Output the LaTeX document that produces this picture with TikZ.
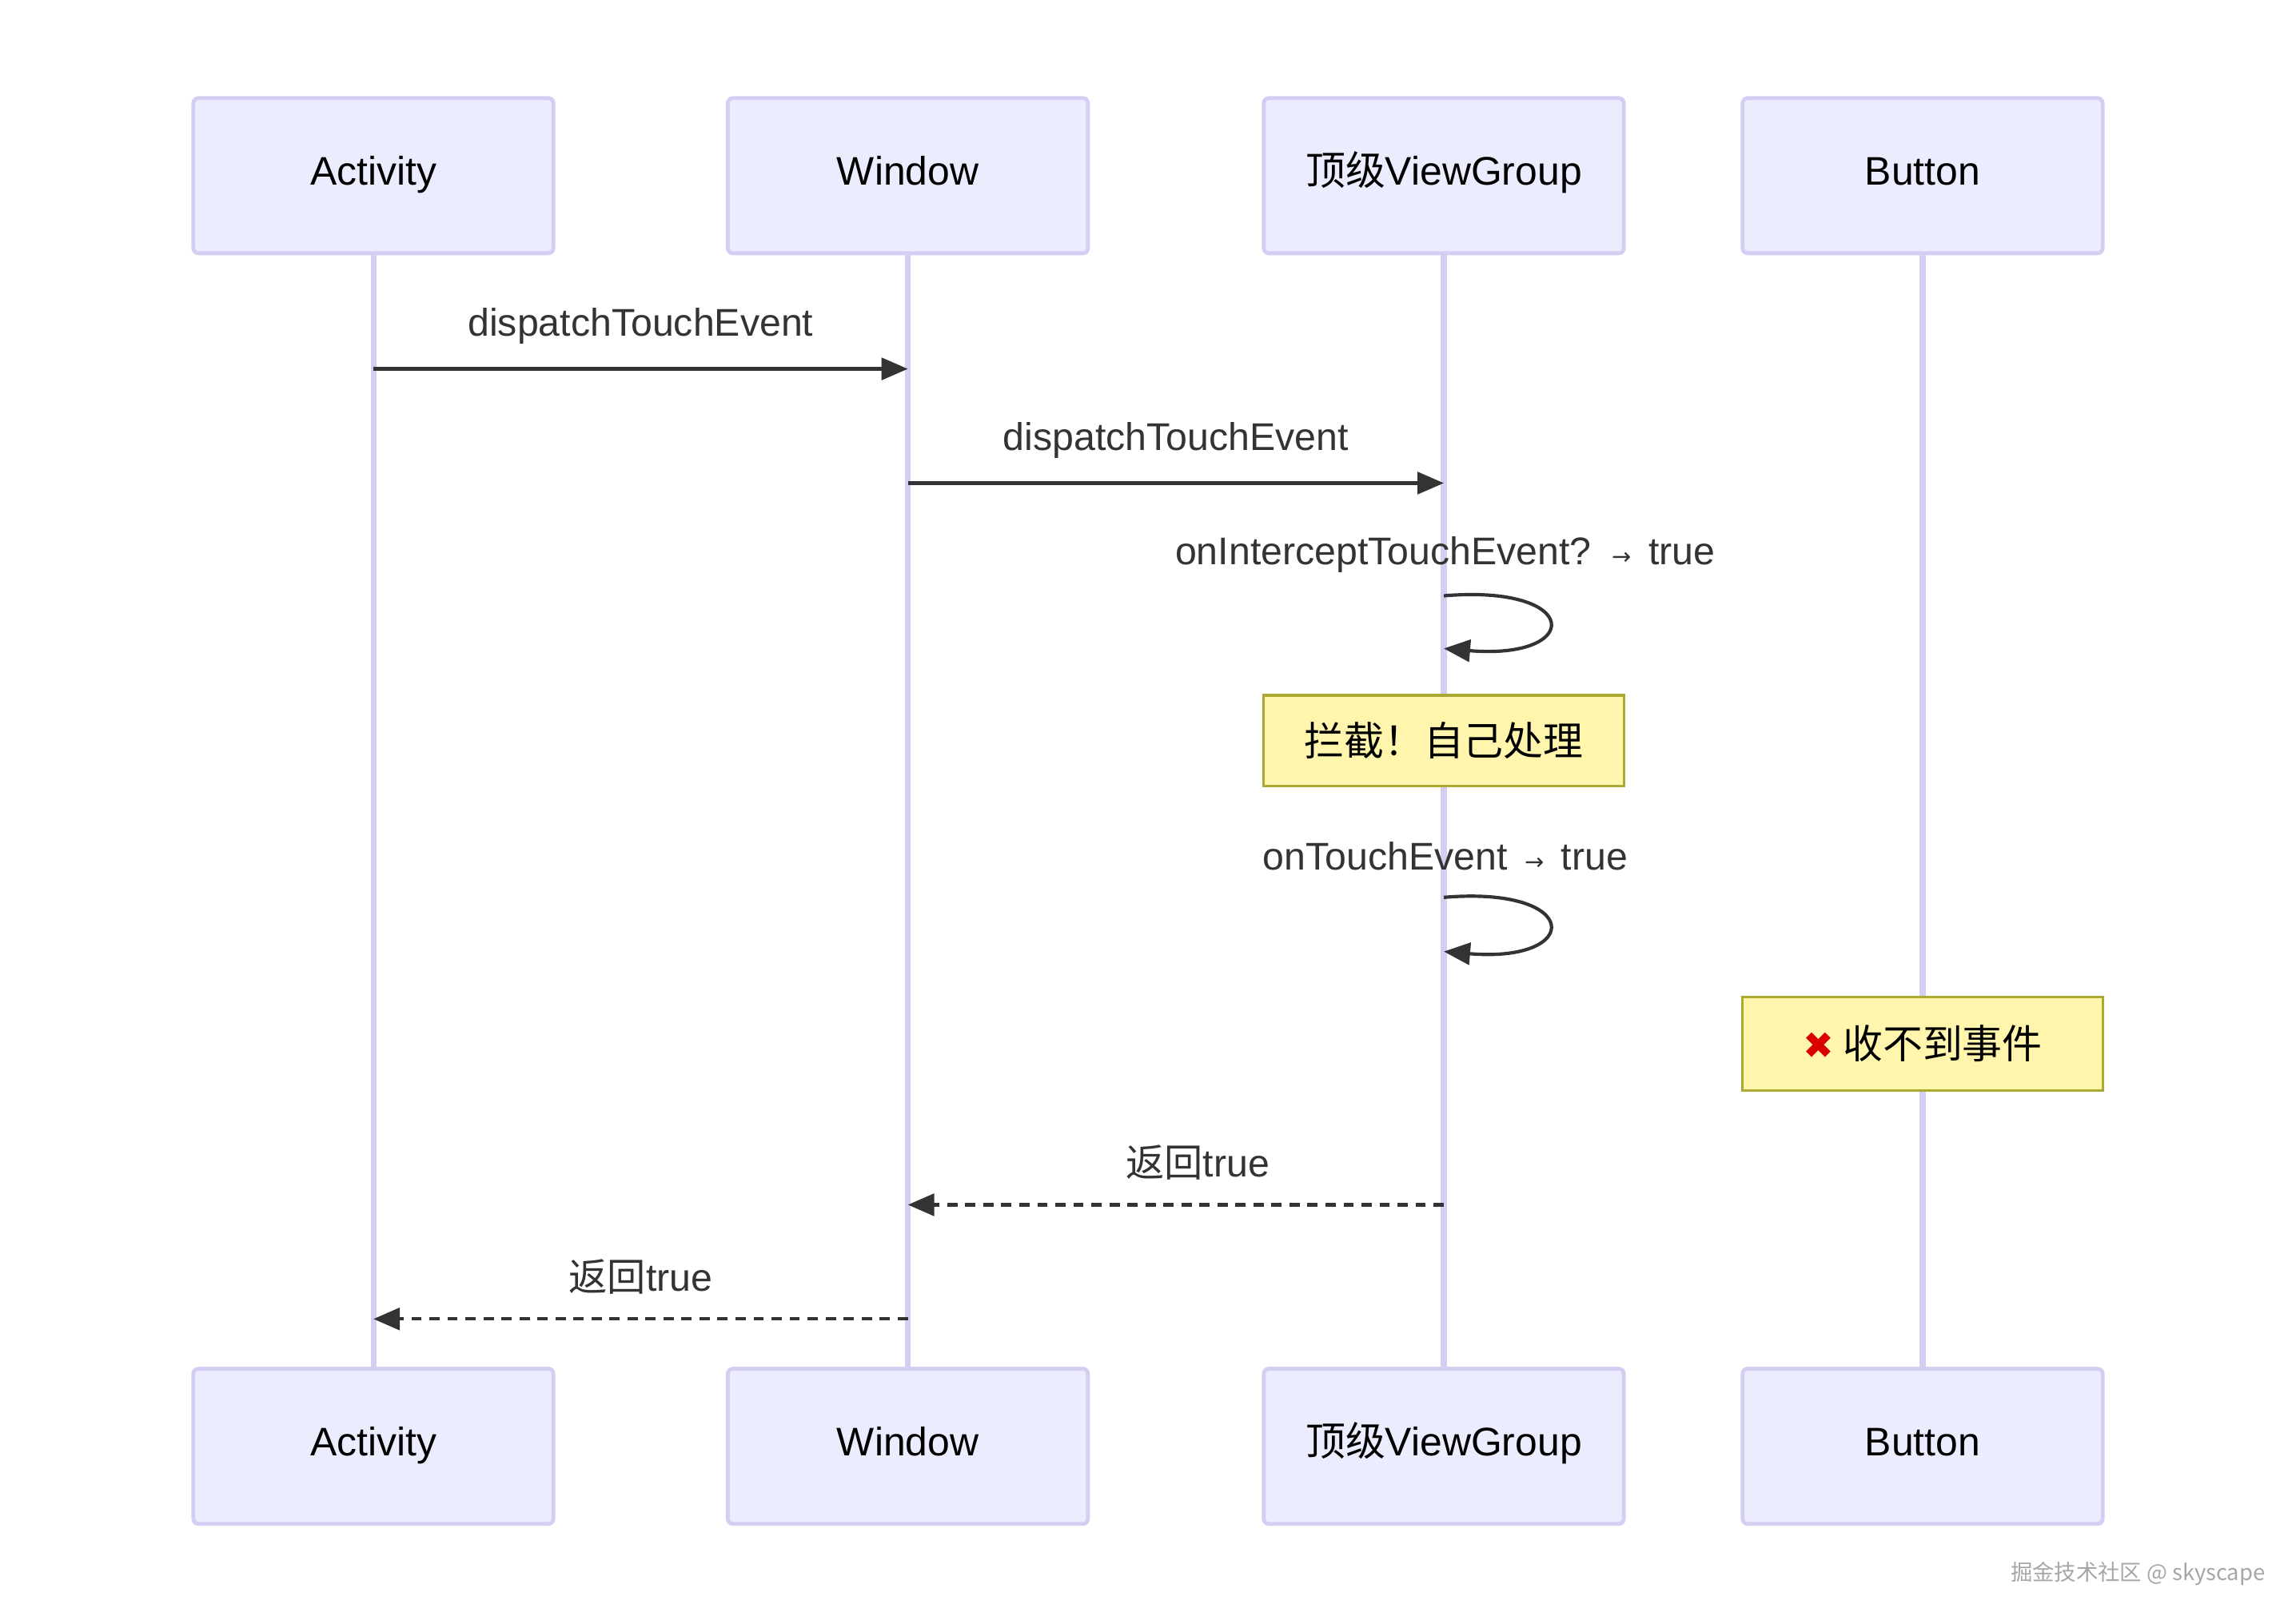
\documentclass[tikz,border=0pt]{standalone}
\usepackage{fontspec}
\setmainfont{Liberation Sans}
\newfontfamily\cjk{Noto Sans CJK SC}
\newfontfamily\sym{DejaVu Sans}
\usetikzlibrary{arrows.meta}

\definecolor{actorfill}{HTML}{ECECFF}
\definecolor{actorline}{HTML}{D4CEF2}
\definecolor{notefill}{HTML}{FFF5AD}
\definecolor{noteline}{HTML}{AAAA33}
\definecolor{msgline}{HTML}{333333}

\tikzset{%
  every actor/.style={
    draw=actorline,
    fill=actorfill,
    line width=1.5pt,
    rounded corners=2pt,
    minimum width=4.92cm,
    minimum height=2.12cm,
    text height=0.75em,
    text depth=0em,
    font=\fontsize{15.5}{19}\selectfont
  },
  note/.style={
    draw=noteline,
    fill=notefill,
    line width=1pt,
    minimum width=4.92cm,
    font=\fontsize{15.5}{19}\selectfont\cjk
  },
  lifeline/.style={
    draw=actorline,
    line width=2.2pt
  },
  msg/.style={
    draw=msgline,
    line width=1.3pt,
    -{Triangle[length=0.36cm,width=0.3cm]}
  },
  reply/.style={
    msg,
    dash pattern=on 4pt off 3pt
  },
  label/.style={
    text=msgline,
    font=\fontsize{15}{18}\selectfont
  },
}

\begin{document}
\begin{tikzpicture}[x=0.02cm, y=-0.02cm]
\useasboundingbox (0,0) rectangle (1568,1109);

% ACTORS, top and bottom
\foreach \n/\x/\t in {act/255/Activity, win/620/Window, vg/986/{{\cjk 顶级}ViewGroup}, btn/1313/Button} {
  \node [every actor] (\n-top) at (\x,120) {\t};
  \node [every actor] (\n-bot) at (\x,988) {\t};
}

% LIFELINES
\foreach \n in {act,win,vg,btn}
  \draw [lifeline] (\n-top.south) -- (\n-bot.north);

% NOTES
\node [note, minimum height=1.24cm] (intercept) at (986,506) {拦截！自己处理};
\node [note, minimum height=1.28cm] (nothing) at (1313,713)
  {{\sym\Large\textcolor{red!85!black}{✖}} 收不到事件};

% ROWS
\foreach \r/\y in {r1/252, r2/330, r3/407, r4/443, r5/613, r6/650, r7/823, r8/901}
  \coordinate (\r) at (0,\y);

% MESSAGES
\draw [msg] (act-top |- r1) -- (win-top |- r1)
  node [label, midway, above=0.2cm] {dispatchTouchEvent};
\draw [msg] (win-top |- r2) -- (vg-top |- r2)
  node [label, midway, above=0.2cm] {dispatchTouchEvent};

% Self calls
\node [label] (call1) at (987,379) {onInterceptTouchEvent? \,{\sym\small →}\, true};
\draw [msg] (vg-top |- r3) .. controls +(95,-8) and +(95,8) .. (vg-top |- r4);
\node [label] (call2) at (987,585) {onTouchEvent \,{\sym\small →}\, true};
\draw [msg] (vg-top |- r5) .. controls +(95,-8) and +(95,8) .. (vg-top |- r6);

% Replies
\draw [reply] (vg-top |- r7) -- (win-top |- r7)
  node [label, midway, above=0.2cm, xshift=0.3cm] {{\cjk 返回}true};
\draw [reply] (win-top |- r8) -- (act-top |- r8)
  node [label, midway, above=0.2cm] {{\cjk 返回}true};

% watermark
\node [text=gray!70, font=\cjk\fontsize{8.5}{11}\selectfont] (mark) at (1460,1075) {掘金技术社区 @ skyscape};
\end{tikzpicture}
\end{document}
